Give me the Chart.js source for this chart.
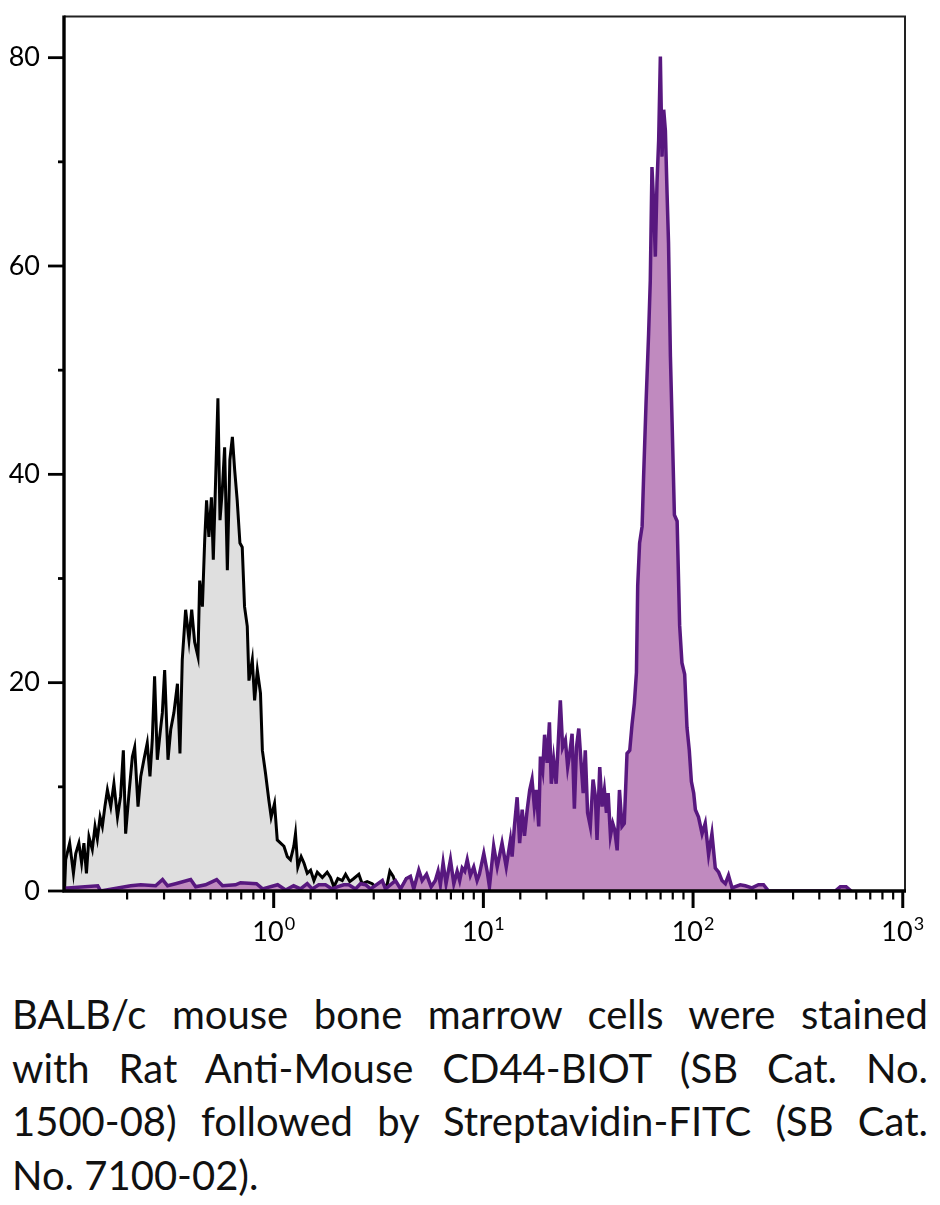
<!DOCTYPE html>
<html>
<head>
<meta charset="utf-8">
<script src="https://cdn.jsdelivr.net/npm/chart.js@4.4.1/dist/chart.umd.min.js"></script>
<style>
  html, body { margin: 0; padding: 0; background: #fff; }
  #wrap { position: relative; width: 940px; height: 975px; }
  #caption { position: absolute; left: 12px; top: 988px; width: 916px;
    font-family: Lato, sans-serif; font-size: 40px; line-height: 53.5px; color: #111; }
  #caption .j { text-align: justify; text-align-last: justify; }
</style>
</head>
<body>
<div id="wrap"><canvas id="histo"></canvas></div>
<div id="caption">
  <div class="j">BALB/c mouse bone marrow cells were stained</div>
  <div class="j">with Rat Anti-Mouse CD44-BIOT (SB Cat. No.</div>
  <div class="j">1500-08) followed by Streptavidin-FITC (SB Cat.</div>
  <div>No. 7100-02).</div>
</div>
<script>
// channel positions in decades (log10 of intensity), counts
const grayExp = [-0.997,-0.992,-0.973,-0.955,-0.944,-0.929,-0.916,-0.905,-0.893,-0.881,
  -0.865,-0.852,-0.841,-0.828,-0.817,-0.805,-0.793,-0.777,-0.762,-0.745,
  -0.730,-0.717,-0.706,-0.690,-0.674,-0.663,-0.647,-0.634,-0.619,-0.603,
  -0.590,-0.579,-0.568,-0.555,-0.542,-0.531,-0.520,-0.504,-0.491,-0.476,
  -0.459,-0.447,-0.436,-0.420,-0.404,-0.391,-0.377,-0.361,-0.353,-0.340,
  -0.329,-0.320,-0.309,-0.297,-0.288,-0.277,-0.266,-0.256,-0.245,-0.234,
  -0.221,-0.209,-0.197,-0.186,-0.174,-0.161,-0.150,-0.139,-0.126,-0.118,
  -0.102,-0.091,-0.078,-0.063,-0.054,-0.039,-0.023,-0.012,0.004,0.017,
  0.033,0.049,0.065,0.080,0.096,0.104,0.115,0.131,0.144,0.160,
  0.176,0.192,0.208,0.232,0.255,0.271,0.287,0.306,0.327,0.343,
  0.363,0.382,0.406,0.422,0.446,0.470,0.494,0.518,0.541,0.554,
  0.570,0.589,0.613,0.633,0.652,0.676,0.700,0.729,0.748,0.795];
const grayCount = [0.3,3.0,4.6,1.7,3.6,4.6,2.7,4.6,1.7,5.2,
  4.0,6.2,5.0,7.1,6.2,8.1,9.7,8.1,10.3,7.1,
  9.1,13.5,5.5,9.4,12.9,13.8,8.1,11.0,12.6,14.2,
  11.0,14.5,20.6,12.6,15.1,17.1,21.2,12.6,15.5,17.1,
  19.9,13.2,22.2,27.0,24.1,27.0,23.9,22.5,29.8,27.3,
  33.7,37.5,34.0,37.8,31.8,39.4,47.3,35.6,38.5,42.6,
  30.8,41.4,43.6,40.4,37.5,33.4,33.0,27.3,25.4,20.2,
  22.2,18.3,21.2,19.0,13.5,11.3,8.7,7.1,8.4,4.9,
  4.6,4.3,3.3,3.0,4.3,5.5,2.3,3.3,2.7,1.7,
  2.0,1.0,1.8,1.3,1.8,1.3,0.4,1.2,1.0,1.6,
  0.9,1.2,1.6,0.7,0.9,0.7,0.2,0.4,0.6,1.9,
  1.4,0.2,0.4,1.2,1.2,0.2,0.6,1.2,0.0,0.0];

const purpleExp = [-1.000,-0.982,-0.839,-0.825,-0.682,-0.634,-0.563,-0.530,-0.506,-0.468,
  -0.396,-0.372,-0.325,-0.272,-0.244,-0.182,-0.158,-0.082,-0.053,0.019,
  0.057,0.095,0.128,0.160,0.184,0.215,0.247,0.279,0.303,0.334,
  0.358,0.390,0.414,0.438,0.462,0.518,0.533,0.581,0.605,0.633,
  0.652,0.668,0.692,0.708,0.729,0.751,0.771,0.784,0.795,0.808,
  0.822,0.843,0.859,0.875,0.887,0.899,0.911,0.923,0.938,0.954,
  0.970,0.981,1.002,1.018,1.029,1.049,1.066,1.089,1.109,1.129,
  1.137,1.148,1.161,1.173,1.185,1.196,1.209,1.221,1.232,1.243,
  1.253,1.264,1.272,1.283,1.292,1.304,1.315,1.324,1.335,1.347,
  1.356,1.367,1.378,1.391,1.402,1.412,1.423,1.434,1.444,1.455,
  1.466,1.476,1.486,1.497,1.510,1.523,1.534,1.542,1.555,1.566,
  1.577,1.587,1.595,1.606,1.617,1.626,1.638,1.649,1.661,1.672,
  1.685,1.698,1.709,1.720,1.730,1.736,1.745,1.757,1.764,1.776,
  1.788,1.796,1.804,1.812,1.820,1.828,1.836,1.844,1.852,1.860,
  1.868,1.876,1.883,1.892,1.900,1.911,1.924,1.936,1.947,1.960,
  1.971,1.982,1.992,2.003,2.011,2.026,2.043,2.058,2.074,2.090,
  2.106,2.122,2.138,2.154,2.169,2.186,2.225,2.249,2.281,2.312,
  2.336,2.360,2.678,2.702,2.730,2.754];
const purpleCount = [0.3,0.3,0.5,0,0.5,0.6,0.5,1.1,0.5,0.7,
  1.1,0.4,0.6,1.1,0.5,0.6,0.8,0.7,0.2,0.6,
  0.1,0.5,0.2,0.7,0.2,0.6,0.6,0.2,0.4,0.6,
  0.6,0.2,0.7,0.6,0.2,1.0,0.2,1.0,0.2,1.2,
  1.4,0.2,2.0,1.0,1.6,0.4,1.0,1.9,0.6,2.7,
  0.7,3.0,0.7,1.9,1.0,2.2,1.9,3.0,1.5,2.3,
  1.0,1.6,3.6,1.9,0.4,4.3,2.3,4.6,2.3,4.9,
  3.3,6.2,9.0,4.6,7.8,5.3,7.8,9.7,10.7,8.1,
  9.7,6.2,12.9,11.6,15.0,12.3,16.2,10.3,12.6,10.3,
  13.8,18.3,13.8,14.5,11.9,13.2,15.1,7.9,13.8,15.6,
  12.3,9.4,13.5,7.5,6.2,10.7,9.1,4.9,11.9,8.1,
  9.7,7.5,9.4,5.3,6.5,5.9,3.9,9.7,6.2,6.5,
  13.2,13.5,16.0,18.0,21.0,29.3,33.4,35.0,39.7,47.0,
  53.5,58.6,69.5,66.0,60.9,68.0,72.1,80.1,70.5,75.0,
  73.0,67.0,62.2,51.3,45.0,36.1,35.5,25.5,21.9,20.8,
  15.7,13.5,10.5,9.4,7.8,7.1,5.5,6.5,3.5,5.5,
  2.2,1.8,1.0,0.7,1.5,0.3,0.6,0.5,0.3,0.6,
  0.6,0,0,0.4,0.4,0];

const yTicks = [0, 20, 40, 60, 80];
const xDecades = [0, 1, 2, 3];

const toPoints = (exps, counts) => exps.map((e, i) => ({ x: Math.pow(10, e), y: counts[i] }));

// frame, tick marks and 10^n labels
const frame = {
  id: 'frame',
  afterDatasetsDraw(chart) {
    const { ctx, chartArea: a, scales: { x, y } } = chart;
    ctx.save();
    ctx.lineCap = 'butt';
    ctx.strokeStyle = '#222';
    ctx.lineWidth = 2;
    ctx.beginPath();
    ctx.moveTo(a.left, a.top + 0.5);
    ctx.lineTo(a.right, a.top + 0.5);
    ctx.lineTo(a.right, a.bottom);
    ctx.stroke();

    ctx.strokeStyle = '#000';
    ctx.lineWidth = 3.4;
    ctx.beginPath();
    ctx.moveTo(a.left, a.top - 0.5);
    ctx.lineTo(a.left, a.bottom);
    ctx.lineTo(a.right + 1, a.bottom);
    ctx.stroke();

    ctx.lineWidth = 2.8;
    y.ticks.forEach(t => {
      const py = y.getPixelForValue(t.value);
      const len = yTicks.includes(t.value) ? 16 : 6;
      ctx.beginPath();
      ctx.moveTo(a.left - len, py);
      ctx.lineTo(a.left, py);
      ctx.stroke();
    });

    x.ticks.forEach(t => {
      if (t.value <= 0.1001 || t.value > 1000.5) return;
      const lg = Math.log10(t.value);
      const major = Math.abs(lg - Math.round(lg)) < 1e-6;
      const px = x.getPixelForValue(t.value);
      ctx.lineWidth = major ? 3 : 2.2;
      ctx.beginPath();
      ctx.moveTo(px, a.bottom);
      ctx.lineTo(px, a.bottom + (major ? 17 : 8.5));
      ctx.stroke();
    });

    ctx.fillStyle = '#000';
    ctx.textBaseline = 'alphabetic';
    ctx.textAlign = 'left';
    xDecades.forEach(d => {
      const px = x.getPixelForValue(Math.pow(10, d));
      ctx.font = '27px Lato';
      const wb = ctx.measureText('10').width;
      ctx.font = '18px Lato';
      const ws = ctx.measureText(String(d)).width;
      const x0 = px - (wb + ws + 1) / 2;
      ctx.font = '27px Lato';
      ctx.fillText('10', x0, a.bottom + 50);
      ctx.font = '18px Lato';
      ctx.fillText(String(d), x0 + wb + 1, a.bottom + 39);
    });
    ctx.restore();
  }
};

new Chart(document.getElementById('histo'), {
  type: 'line',
  data: {
    datasets: [
      {
        label: 'CD44',
        data: toPoints(purpleExp, purpleCount),
        borderColor: '#58187f',
        backgroundColor: '#c08abf',
        borderWidth: 3.5,
        fill: 'origin',
        pointRadius: 0,
        tension: 0,
        order: 0
      },
      {
        label: 'control',
        data: toPoints(grayExp, grayCount),
        borderColor: '#000',
        backgroundColor: '#dfdfdf',
        borderWidth: 3,
        fill: 'origin',
        pointRadius: 0,
        tension: 0,
        order: 1
      }
    ]
  },
  options: {
    responsive: true,
    maintainAspectRatio: false,
    animation: false,
    layout: { padding: { top: 16, right: 35, left: 0, bottom: 0 } },
    plugins: { legend: { display: false }, tooltip: { enabled: false } },
    scales: {
      x: {
        type: 'logarithmic',
        min: 0.1,
        max: 1025,
        grid: { display: false, drawTicks: false },
        border: { display: false },
        ticks: { display: false, autoSkip: false },
        afterFit: s => { s.height = 84; s.paddingLeft = 0; s.paddingRight = 0; }
      },
      y: {
        min: 0,
        max: 84,
        grid: { display: false, drawTicks: false },
        border: { display: false },
        ticks: {
          stepSize: 10,
          includeBounds: false,
          padding: 24,
          color: '#000',
          font: { family: 'Lato', size: 27 },
          callback: v => yTicks.includes(v) ? String(v) : ''
        },
        afterFit: s => { s.width = 64; s.paddingTop = 0; s.paddingBottom = 0; }
      }
    }
  },
  plugins: [frame]
});
</script>
</body>
</html>
